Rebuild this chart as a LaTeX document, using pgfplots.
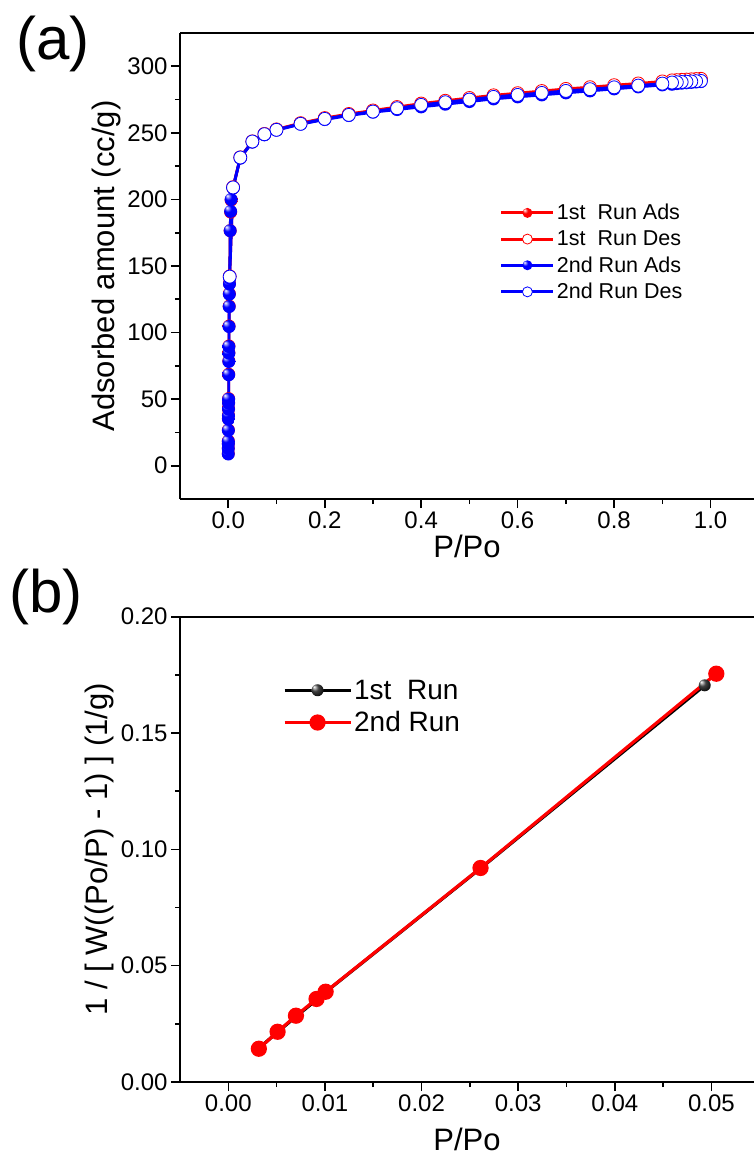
\documentclass[border=0pt]{standalone}
\usepackage{fontspec}
\setmainfont{Liberation Sans}
\usepackage{pgfplots}
\pgfplotsset{compat=1.18}
\definecolor{runred}{HTML}{FF0000}
\definecolor{runblue}{HTML}{0000FF}

% glossy balls: white spot up-left, plain colour elsewhere
\pgfdeclareradialshading{blueball}{\pgfpoint{-15bp}{15bp}}{color(0bp)=(white); color(13bp)=(runblue); color(40bp)=(runblue); color(50bp)=(runblue!75!black)}
\pgfdeclareradialshading{redball}{\pgfpoint{-15bp}{15bp}}{color(0bp)=(white); color(13bp)=(runred); color(40bp)=(runred); color(50bp)=(runred!80!black)}
\pgfdeclareradialshading{blackball}{\pgfpoint{-15bp}{15bp}}{color(0bp)=(white); color(14bp)=(black!75); color(35bp)=(black); color(50bp)=(black)}
\pgfdeclareplotmark{bball}{\pgfpathcircle{\pgfpointorigin}{\pgfplotmarksize}\pgfshadepath{blueball}{0}\pgfusepath{}}
\pgfdeclareplotmark{rball}{\pgfpathcircle{\pgfpointorigin}{\pgfplotmarksize}\pgfshadepath{redball}{0}\pgfusepath{}}
\pgfdeclareplotmark{kball}{\pgfpathcircle{\pgfpointorigin}{\pgfplotmarksize}\pgfshadepath{blackball}{0}\pgfusepath{}}

\pgfplotsset{
  panel/.style={
    scale only axis,
    width=574pt,
    axis x line*=box,
    axis y line*=left,
    axis line style={line width=1.6pt},
    every tick/.style={black, line width=1.6pt},
    tick align=outside,
    xtick pos=left, ytick pos=left,
    major tick length=9pt,
    minor tick length=5pt,
    minor tick num=1,
    /pgf/number format/assume math mode=true,
    tick label style={font=\fontsize{24}{28}\selectfont},
    label style={font=\fontsize{31}{36}\selectfont},
    legend cell align=left,
  },
}

\begin{document}
\begin{tikzpicture}
% ---------------- (a) isotherm
\begin{axis}[panel,
  legend image code/.code={%
    \draw[mark repeat=2,mark phase=2,#1,line width=3pt,mark size=5pt] plot coordinates {(0pt,0pt)(26pt,0pt)(52pt,0pt)};},
  at={(180pt,-33pt)}, anchor=north west, height=466pt,
  xmin=-0.1, xmax=1.09, ymin=-25, ymax=325,
  xtick={0,0.2,...,1.0}, ytick={0,50,...,300},
  xticklabel style={/pgf/number format/.cd,fixed,fixed zerofill,precision=1},
  xlabel={P/Po}, ylabel={Adsorbed amount (cc/g)},
  legend style={at={(0.557,0.637)}, anchor=north west, draw=none, fill=none,
    font=\fontsize{21.5}{24}\selectfont, row sep=5.5pt, inner sep=0pt},
]
\addplot[runred, line width=2.8pt, mark=rball, mark size=6.5pt] coordinates {
(0.0001,9.2)(0.0001,13.2)(0.0002,16.7)(0.0002,18.6)(0.0003,26.9)(0.0004,35.4)(0.0005,37.9)
(0.0006,42.9)(0.0007,47.4)(0.0008,50.4)(0.0010,68.7)(0.0012,78.7)(0.0013,84.9)(0.0014,89.9)
(0.0017,104.9)(0.0020,119.9)(0.0023,129.2)(0.0026,136.9)(0.0030,141.5)(0.004,176.5)(0.005,190.5)
(0.006,199.5)(0.010,208.5)(0.025,231.3)(0.05,243.3)(0.075,248.8)(0.1,252.4)(0.15,257)(0.2,260.6)
(0.25,263.7)(0.3,266.3)(0.35,268.5)(0.4,270.6)(0.45,272.7)(0.5,274.8)(0.55,276.9)(0.6,278.5)
(0.65,280.1)(0.7,281.7)(0.75,283.3)(0.8,284.9)(0.85,286.4)(0.9,288)(0.92,288.5)(0.93,288.9)
(0.94,289.2)(0.95,289.5)(0.96,289.8)(0.97,290.1)(0.98,290.4)};
\addlegendentry{1st\ \ Run Ads}
\addplot[runred, line width=2.8pt, mark=*, mark options={fill=white, draw=runred, line width=0.8pt}, mark size=6.5pt] coordinates {
(0.98,290.6)(0.97,290.4)(0.96,290.2)(0.95,290)(0.94,289.8)(0.93,289.6)(0.92,289.4)(0.9,288.6)
(0.85,287.1)(0.8,285.8)(0.75,284.3)(0.7,283)(0.65,281.4)(0.6,279.8)(0.55,278.2)(0.5,276.2)
(0.45,274.1)(0.4,272)(0.35,269.4)(0.3,266.8)(0.25,264.2)(0.2,261.1)(0.15,257.3)(0.1,252.6)
(0.075,249.2)(0.05,243.6)(0.025,231.6)(0.01,209.2)(0.003,142.2)};
\addlegendentry{1st\ \ Run Des}
\addplot[runblue, line width=2.8pt, mark=bball, mark size=6.5pt] coordinates {
(0.0001,8.8)(0.0001,12.8)(0.0002,16.3)(0.0002,18.2)(0.0003,26.5)(0.0004,35)(0.0005,37.5)
(0.0006,42.5)(0.0007,47)(0.0008,50)(0.0010,68.3)(0.0012,78.3)(0.0013,84.5)(0.0014,89.5)
(0.0017,104.5)(0.0020,119.5)(0.0023,128.8)(0.0026,136.5)(0.0030,141)(0.004,176.5)(0.005,191)
(0.006,200)(0.010,208.5)(0.025,231)(0.05,243)(0.075,248.5)(0.1,252)(0.15,256.5)(0.2,260)
(0.25,263)(0.3,265.5)(0.35,267.5)(0.4,269.5)(0.45,271.5)(0.5,273.5)(0.55,275.5)(0.6,277)
(0.65,278.5)(0.7,280)(0.75,281.5)(0.8,283)(0.85,284.5)(0.9,286)(0.92,286.5)(0.93,287)
(0.94,287.3)(0.95,287.6)(0.96,287.9)(0.97,288.2)(0.98,288.5)};
\addlegendentry{2nd Run Ads}
\addplot[runblue, line width=2.8pt, mark=*, mark options={fill=white, draw=runblue, line width=0.8pt}, mark size=6.5pt] coordinates {
(0.98,289)(0.97,288.8)(0.96,288.6)(0.95,288.4)(0.94,288.2)(0.93,288)(0.92,287.8)(0.9,287)
(0.85,285.5)(0.8,284.2)(0.75,282.8)(0.7,281.5)(0.65,280)(0.6,278.5)(0.55,277)(0.5,275)
(0.45,273)(0.4,271)(0.35,268.5)(0.3,266)(0.25,263.5)(0.2,260.5)(0.15,256.8)(0.1,252.3)
(0.075,249)(0.05,243.5)(0.025,231.5)(0.01,209)(0.003,142)};
\addlegendentry{2nd Run Des}
\end{axis}
\node[font=\fontsize{60}{70}\selectfont, anchor=center] at (53pt,-44pt) {(a)};

% ---------------- (b) BET plot
\begin{axis}[panel,
  legend image code/.code={%
    \draw[mark repeat=2,mark phase=2,#1,line width=3.2pt] plot coordinates {(0pt,0pt)(33pt,0pt)(66pt,0pt)};},
  at={(180pt,-616.7pt)}, anchor=north west, height=465.3pt,
  xmin=-0.005, xmax=0.0544, ymin=0, ymax=0.2,
  xtick={0,0.01,...,0.05}, ytick={0,0.05,...,0.2},
  xticklabel style={/pgf/number format/.cd,fixed,fixed zerofill,precision=2},
  yticklabel style={/pgf/number format/.cd,fixed,fixed zerofill,precision=2},
  scaled x ticks=false, scaled y ticks=false,
  xlabel={P/Po}, ylabel={1 / [ W((Po/P) - 1) ] (1/g)},
  xlabel style={yshift=-10pt},
  legend style={at={(0.179,0.869)}, anchor=north west, draw=none, fill=none,
    font=\fontsize{28}{32}\selectfont, row sep=7pt, inner sep=0pt},
]
\addplot[black, line width=3.2pt, mark=kball, mark size=6pt] coordinates {
(0.00305,0.0141)(0.00505,0.0213)(0.00705,0.0283)(0.00915,0.0354)(0.01005,0.0386)(0.0260,0.0915)(0.0493,0.1705)};
\addlegendentry{1st\ \ Run}
\addplot[runred, line width=3.2pt, mark=*, mark size=6.5pt] coordinates {
(0.00316,0.0143)(0.0051,0.0216)(0.0070,0.0285)(0.00913,0.0357)(0.01007,0.0388)(0.0261,0.0920)(0.0505,0.1755)};
\addlegendentry{2nd Run}
\end{axis}
\node[font=\fontsize{60}{70}\selectfont, anchor=center] at (46pt,-597pt) {(b)};

\pgfresetboundingbox
\path[use as bounding box] (0,0) rectangle (754pt,-1162pt);
\end{tikzpicture}
\end{document}
